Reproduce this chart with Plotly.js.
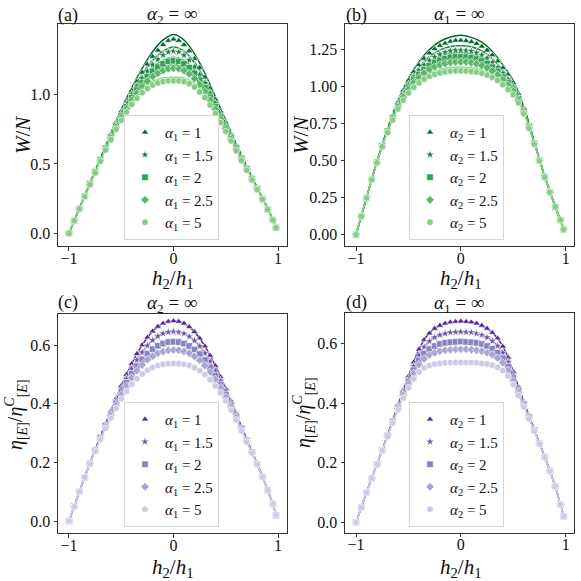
<!DOCTYPE html>
<html>
<head>
<meta charset="utf-8">
<script src="https://cdn.plot.ly/plotly-3.0.1.min.js"></script>
<style>
  html, body { margin: 0; padding: 0; background: #fff; }
  #chart { width: 581px; height: 581px; }
</style>
</head>
<body>
<div id="chart"></div>
<script>
var FONT = 'Liberation Serif, DejaVu Serif, serif';

// h2/h1 grid of the simulated points and of the fitted curves
var hSim = [-1, -0.95, -0.9, -0.85, -0.8, -0.75, -0.7, -0.65, -0.6, -0.55, -0.5, -0.45, -0.4, -0.35, -0.3, -0.25, -0.2, -0.15, -0.1, -0.05, 0,
            0.05, 0.1, 0.15, 0.2, 0.25, 0.3, 0.35, 0.4, 0.45, 0.5, 0.55, 0.6, 0.65, 0.7, 0.75, 0.8, 0.85, 0.9, 0.95, 0.98];
var hFit = [-1, -0.9, -0.8, -0.7, -0.6, -0.5, -0.4, -0.3, -0.2, -0.1, 0, 0.1, 0.2, 0.3, 0.4, 0.5, 0.6, 0.7, 0.8, 0.9, 0.98];

var alphas = ['1', '1.5', '2', '2.5', '5'];
var symbols = ['triangle-up', 'star', 'square', 'diamond', 'circle'];
var greens = ['#00692a', '#1a843f', '#37a055', '#5bb86a', '#86cc85'];
var purples = ['#552a90', '#6e58a7', '#8884bf', '#a8a5d0', '#cbcbe3'];

var xTickVals = [-1, 0, 1];
var xTickText = ['\u22121', '0', '1'];
var aTickVals = [0, 0.5, 1.0];
var aTickText = ['0.0', '0.5', '1.0'];
var bTickVals = [0, 0.25, 0.5, 0.75, 1.0, 1.25];
var bTickText = ['0.00', '0.25', '0.50', '0.75', '1.00', '1.25'];
var etaTickVals = [0, 0.2, 0.4, 0.6];
var etaTickText = ['0.0', '0.2', '0.4', '0.6'];

// (a) W/N, alpha2 = inf
var aSim1 = [0, 0.09, 0.18, 0.27, 0.36, 0.45, 0.54, 0.63, 0.715, 0.80, 0.88, 0.955, 1.03, 1.095, 1.16, 1.22, 1.275, 1.32, 1.36, 1.39, 1.40,
             1.39, 1.36, 1.315, 1.26, 1.195, 1.125, 1.045, 0.965, 0.88, 0.80, 0.715, 0.635, 0.555, 0.475, 0.40, 0.325, 0.25, 0.175, 0.095, 0.04];
var aSim15 = [0, 0.09, 0.18, 0.27, 0.357, 0.446, 0.534, 0.622, 0.704, 0.786, 0.862, 0.932, 1.002, 1.061, 1.119, 1.17, 1.217, 1.254, 1.285, 1.308, 1.315,
              1.308, 1.285, 1.249, 1.202, 1.145, 1.084, 1.011, 0.937, 0.857, 0.782, 0.701, 0.624, 0.547, 0.469, 0.396, 0.322, 0.25, 0.175, 0.095, 0.04];
var aSim2 = [0, 0.09, 0.177, 0.267, 0.355, 0.442, 0.53, 0.614, 0.694, 0.774, 0.846, 0.914, 0.978, 1.033, 1.085, 1.13, 1.169, 1.199, 1.223, 1.24, 1.245,
             1.24, 1.223, 1.194, 1.154, 1.105, 1.05, 0.983, 0.913, 0.839, 0.766, 0.689, 0.614, 0.539, 0.465, 0.392, 0.32, 0.247, 0.172, 0.095, 0.04];
var aSim25 = [0, 0.09, 0.176, 0.266, 0.353, 0.439, 0.526, 0.609, 0.687, 0.765, 0.834, 0.899, 0.96, 1.011, 1.058, 1.097, 1.131, 1.155, 1.174, 1.187, 1.19,
              1.187, 1.174, 1.15, 1.116, 1.072, 1.023, 0.961, 0.895, 0.824, 0.754, 0.68, 0.607, 0.534, 0.461, 0.389, 0.318, 0.246, 0.171, 0.095, 0.04];
var aSim5 = [0, 0.09, 0.175, 0.265, 0.35, 0.435, 0.52, 0.6, 0.675, 0.75, 0.815, 0.875, 0.93, 0.975, 1.015, 1.045, 1.07, 1.085, 1.095, 1.10, 1.10,
             1.10, 1.095, 1.08, 1.055, 1.02, 0.98, 0.925, 0.865, 0.80, 0.735, 0.665, 0.595, 0.525, 0.455, 0.385, 0.315, 0.245, 0.17, 0.095, 0.04];
var aFit1 = [0, 0.18, 0.36, 0.54, 0.72, 0.895, 1.05, 1.19, 1.31, 1.395, 1.435, 1.395, 1.295, 1.155, 0.985, 0.815, 0.645, 0.485, 0.33, 0.18, 0.045];
var aFit15 = [0, 0.18, 0.36, 0.54, 0.71, 0.875, 1.02, 1.147, 1.247, 1.315, 1.345, 1.315, 1.232, 1.11, 0.955, 0.795, 0.633, 0.478, 0.327, 0.18, 0.045];
var aFit2 = [0, 0.178, 0.357, 0.533, 0.7, 0.858, 0.996, 1.11, 1.195, 1.248, 1.27, 1.248, 1.18, 1.075, 0.93, 0.779, 0.623, 0.474, 0.325, 0.177, 0.045];
var aFit25 = [0, 0.177, 0.355, 0.529, 0.693, 0.846, 0.978, 1.083, 1.156, 1.199, 1.215, 1.199, 1.141, 1.048, 0.913, 0.767, 0.616, 0.47, 0.323, 0.176, 0.045];
var aFit5 = [0, 0.176, 0.352, 0.523, 0.681, 0.827, 0.948, 1.04, 1.095, 1.12, 1.125, 1.12, 1.08, 1.005, 0.883, 0.748, 0.604, 0.464, 0.32, 0.175, 0.045];

// (b) W/N, alpha1 = inf
var bSim1 = [0, 0.125, 0.248, 0.372, 0.491, 0.605, 0.709, 0.807, 0.895, 0.973, 1.04, 1.098, 1.145, 1.188, 1.224, 1.253, 1.275, 1.291, 1.303, 1.309, 1.31,
             1.308, 1.301, 1.288, 1.27, 1.244, 1.211, 1.171, 1.125, 1.08, 1.025, 0.95, 0.855, 0.742, 0.624, 0.505, 0.391, 0.287, 0.188, 0.1, 0.036];
var bSim15 = [0, 0.125, 0.248, 0.371, 0.489, 0.601, 0.703, 0.797, 0.88, 0.952, 1.013, 1.065, 1.107, 1.144, 1.175, 1.199, 1.217, 1.23, 1.24, 1.244, 1.245,
              1.243, 1.238, 1.227, 1.212, 1.191, 1.163, 1.129, 1.089, 1.048, 0.999, 0.931, 0.842, 0.734, 0.62, 0.503, 0.39, 0.287, 0.188, 0.1, 0.036];
var bSim2 = [0, 0.125, 0.248, 0.371, 0.488, 0.599, 0.698, 0.789, 0.869, 0.938, 0.995, 1.043, 1.08, 1.113, 1.14, 1.161, 1.176, 1.187, 1.196, 1.199, 1.2,
             1.198, 1.194, 1.185, 1.172, 1.154, 1.13, 1.101, 1.064, 1.026, 0.981, 0.917, 0.834, 0.729, 0.616, 0.501, 0.389, 0.286, 0.187, 0.1, 0.036];
var bSim25 = [0, 0.125, 0.248, 0.371, 0.487, 0.597, 0.695, 0.784, 0.861, 0.927, 0.981, 1.025, 1.059, 1.09, 1.114, 1.132, 1.145, 1.155, 1.162, 1.165, 1.165,
              1.164, 1.16, 1.152, 1.141, 1.126, 1.105, 1.078, 1.045, 1.009, 0.968, 0.907, 0.827, 0.725, 0.614, 0.5, 0.389, 0.286, 0.187, 0.1, 0.036];
var bSim5 = [0, 0.125, 0.248, 0.37, 0.485, 0.593, 0.689, 0.774, 0.847, 0.908, 0.956, 0.995, 1.024, 1.049, 1.068, 1.082, 1.091, 1.098, 1.103, 1.105, 1.105,
             1.104, 1.101, 1.096, 1.088, 1.077, 1.061, 1.04, 1.012, 0.98, 0.944, 0.889, 0.815, 0.718, 0.61, 0.498, 0.388, 0.286, 0.187, 0.1, 0.036];
var bFit1 = [0, 0.25, 0.495, 0.715, 0.905, 1.055, 1.165, 1.248, 1.303, 1.333, 1.345, 1.331, 1.298, 1.235, 1.145, 1.04, 0.865, 0.63, 0.395, 0.19, 0.036];
var bFit15 = [0, 0.25, 0.493, 0.709, 0.89, 1.028, 1.127, 1.199, 1.245, 1.27, 1.275, 1.268, 1.24, 1.187, 1.109, 1.014, 0.852, 0.626, 0.394, 0.19, 0.036];
var bFit2 = [0, 0.25, 0.491, 0.703, 0.877, 1.008, 1.097, 1.16, 1.199, 1.221, 1.225, 1.219, 1.195, 1.15, 1.081, 0.993, 0.842, 0.621, 0.392, 0.189, 0.036];
var bFit25 = [0, 0.25, 0.49, 0.7, 0.869, 0.994, 1.076, 1.134, 1.168, 1.187, 1.19, 1.185, 1.164, 1.125, 1.062, 0.981, 0.835, 0.619, 0.392, 0.189, 0.036];
var bFit5 = [0, 0.25, 0.488, 0.694, 0.855, 0.969, 1.041, 1.088, 1.114, 1.128, 1.13, 1.126, 1.111, 1.081, 1.029, 0.957, 0.823, 0.615, 0.391, 0.189, 0.036];

// (c) efficiency ratio, alpha2 = inf
var cSim1 = [0, 0.05, 0.1, 0.15, 0.198, 0.244, 0.289, 0.333, 0.376, 0.418, 0.462, 0.5, 0.537, 0.571, 0.601, 0.627, 0.648, 0.664, 0.675, 0.681, 0.683,
             0.681, 0.675, 0.663, 0.646, 0.624, 0.597, 0.565, 0.53, 0.492, 0.452, 0.41, 0.367, 0.323, 0.28, 0.238, 0.196, 0.152, 0.106, 0.058, 0.02];
var cSim15 = [0, 0.05, 0.1, 0.15, 0.197, 0.242, 0.286, 0.329, 0.37, 0.41, 0.451, 0.486, 0.52, 0.55, 0.576, 0.599, 0.617, 0.631, 0.64, 0.645, 0.647,
              0.645, 0.64, 0.63, 0.616, 0.597, 0.573, 0.545, 0.513, 0.479, 0.442, 0.402, 0.361, 0.319, 0.278, 0.237, 0.195, 0.152, 0.106, 0.058, 0.02];
var cSim2 = [0, 0.05, 0.1, 0.149, 0.196, 0.241, 0.284, 0.325, 0.364, 0.402, 0.44, 0.472, 0.503, 0.529, 0.552, 0.572, 0.587, 0.599, 0.606, 0.611, 0.612,
             0.611, 0.606, 0.598, 0.586, 0.57, 0.55, 0.525, 0.497, 0.466, 0.431, 0.395, 0.356, 0.316, 0.275, 0.235, 0.194, 0.151, 0.106, 0.058, 0.02];
var cSim25 = [0, 0.05, 0.1, 0.149, 0.196, 0.24, 0.281, 0.321, 0.36, 0.395, 0.431, 0.461, 0.489, 0.513, 0.533, 0.551, 0.563, 0.573, 0.579, 0.583, 0.584,
              0.583, 0.579, 0.573, 0.562, 0.549, 0.531, 0.509, 0.484, 0.455, 0.423, 0.389, 0.352, 0.313, 0.273, 0.234, 0.194, 0.151, 0.106, 0.058, 0.02];
var cSim5 = [0, 0.05, 0.1, 0.149, 0.195, 0.237, 0.278, 0.316, 0.352, 0.385, 0.417, 0.443, 0.467, 0.486, 0.502, 0.515, 0.524, 0.531, 0.535, 0.537, 0.538,
             0.537, 0.535, 0.531, 0.524, 0.514, 0.5, 0.483, 0.462, 0.438, 0.41, 0.379, 0.345, 0.308, 0.27, 0.232, 0.193, 0.15, 0.106, 0.058, 0.02];

// (d) efficiency ratio, alpha1 = inf
var dSim1 = [0, 0.05, 0.1, 0.148, 0.195, 0.243, 0.292, 0.342, 0.393, 0.443, 0.49, 0.537, 0.58, 0.612, 0.634, 0.65, 0.66, 0.667, 0.671, 0.673, 0.674,
             0.673, 0.671, 0.667, 0.66, 0.65, 0.636, 0.617, 0.59, 0.553, 0.505, 0.455, 0.405, 0.358, 0.312, 0.265, 0.22, 0.172, 0.12, 0.06, 0.02];
var dSim15 = [0, 0.05, 0.1, 0.148, 0.195, 0.242, 0.291, 0.34, 0.389, 0.437, 0.48, 0.523, 0.561, 0.588, 0.607, 0.62, 0.628, 0.633, 0.637, 0.638, 0.639,
              0.638, 0.637, 0.633, 0.628, 0.62, 0.608, 0.592, 0.569, 0.537, 0.494, 0.448, 0.4, 0.355, 0.31, 0.264, 0.22, 0.172, 0.12, 0.06, 0.02];
var dSim2 = [0, 0.05, 0.1, 0.148, 0.195, 0.242, 0.29, 0.338, 0.385, 0.43, 0.471, 0.51, 0.543, 0.566, 0.581, 0.591, 0.598, 0.602, 0.604, 0.605, 0.606,
             0.605, 0.604, 0.602, 0.598, 0.591, 0.582, 0.569, 0.55, 0.522, 0.484, 0.441, 0.396, 0.353, 0.309, 0.263, 0.219, 0.172, 0.12, 0.06, 0.02];
var dSim25 = [0, 0.05, 0.1, 0.148, 0.194, 0.241, 0.289, 0.336, 0.382, 0.426, 0.464, 0.499, 0.529, 0.548, 0.561, 0.569, 0.574, 0.577, 0.579, 0.58, 0.58,
              0.58, 0.579, 0.577, 0.574, 0.569, 0.562, 0.551, 0.535, 0.51, 0.475, 0.436, 0.393, 0.351, 0.308, 0.263, 0.219, 0.172, 0.12, 0.06, 0.02];
var dSim5 = [0, 0.05, 0.1, 0.148, 0.194, 0.241, 0.287, 0.333, 0.377, 0.417, 0.451, 0.481, 0.504, 0.518, 0.526, 0.531, 0.533, 0.535, 0.536, 0.536, 0.536,
             0.536, 0.536, 0.535, 0.533, 0.531, 0.527, 0.52, 0.509, 0.491, 0.462, 0.426, 0.387, 0.347, 0.306, 0.262, 0.218, 0.171, 0.12, 0.06, 0.02];

var traces = [];

function addPanel(xa, ya, legendId, sub, simSets, fitX, fitSets, colors) {
    for (var i = 0; i < simSets.length; i++) {
        traces.push({
            type: 'scatter', mode: 'lines', x: fitX, y: fitSets[i],
            xaxis: xa, yaxis: ya, showlegend: false, hoverinfo: 'skip',
            line: { color: colors[i], width: 1.5, shape: 'spline' }
        });
        traces.push({
            type: 'scatter', mode: 'markers', x: hSim, y: simSets[i],
            xaxis: xa, yaxis: ya, legend: legendId,
            name: '<i>\u03b1</i><sub>' + sub + '</sub> = ' + alphas[i],
            marker: { symbol: symbols[i], size: 6.5, color: colors[i], line: { color: '#ffffff', width: 0.6 } }
        });
    }
}

addPanel('x', 'y', 'legend', '1', [aSim1, aSim15, aSim2, aSim25, aSim5], hFit, [aFit1, aFit15, aFit2, aFit25, aFit5], greens);
addPanel('x2', 'y2', 'legend2', '2', [bSim1, bSim15, bSim2, bSim25, bSim5], hFit, [bFit1, bFit15, bFit2, bFit25, bFit5], greens);
addPanel('x3', 'y3', 'legend3', '1', [cSim1, cSim15, cSim2, cSim25, cSim5], hSim, [cSim1, cSim15, cSim2, cSim25, cSim5], purples);
addPanel('x4', 'y4', 'legend4', '2', [dSim1, dSim15, dSim2, dSim25, dSim5], hSim, [dSim1, dSim15, dSim2, dSim25, dSim5], purples);

function axis(extra) {
    var base = {
        showline: true, mirror: true, linecolor: '#333', linewidth: 1,
        ticks: 'outside', ticklen: 3.5, tickwidth: 1, tickcolor: '#333',
        showgrid: false, zeroline: false, fixedrange: true,
        tickfont: { family: FONT, size: 16, color: '#111' }
    };
    for (var k in extra) base[k] = extra[k];
    return base;
}

function xAxis(dom, rng, anchor) {
    return axis({ domain: dom, range: rng, anchor: anchor, tickvals: xTickVals, ticktext: xTickText, ticklabelstandoff: -6 });
}

function legendAt(px, py) {
    return {
        x: px / 581, y: 1 - py / 581, xanchor: 'left', yanchor: 'top',
        bgcolor: 'rgba(255,255,255,0.8)', bordercolor: '#d6d6d6', borderwidth: 1,
        font: { family: FONT, size: 15, color: '#111' },
        itemwidth: 30, tracegroupgap: 0
    };
}

function note(text, px, py, size, extra) {
    var a = {
        text: text, xref: 'paper', yref: 'paper', x: px / 581, y: 1 - py / 581,
        xanchor: 'center', yanchor: 'middle',
        showarrow: false, font: { family: FONT, size: size, color: '#111' }
    };
    for (var k in extra) a[k] = extra[k];
    return a;
}

var hLabel = '<i>h</i><sub>2</sub>/<i>h</i><sub>1</sub>';
var wLabel = '<i>W</i>/<i>N</i>';
var etaLabel = '<i>\u03b7</i><sub>[<i>E</i>]</sub>/<i>\u03b7</i><sup><i>C</i></sup><sub>[<i>E</i>]</sub>';
var titleA = '<i>\u03b1</i><sub>2</sub> = \u221e';
var titleB = '<i>\u03b1</i><sub>1</sub> = \u221e';

var layout = {
    width: 581, height: 581,
    margin: { l: 0, r: 0, t: 0, b: 0 },
    paper_bgcolor: '#fff', plot_bgcolor: '#fff',
    showlegend: true,
    font: { family: FONT, color: '#111' },
    xaxis: xAxis([58 / 581, 287 / 581], [-1.105, 1.085], 'y'),
    yaxis: axis({ domain: [1 - 246 / 581, 1 - 24.3 / 581], range: [-0.092, 1.508], anchor: 'x', tickvals: aTickVals, ticktext: aTickText }),
    xaxis2: xAxis([345 / 581, 574 / 581], [-1.105, 1.079], 'y2'),
    yaxis2: axis({ domain: [1 - 246 / 581, 1 - 24.3 / 581], range: [-0.076, 1.419], anchor: 'x2', tickvals: bTickVals, ticktext: bTickText }),
    xaxis3: xAxis([58 / 581, 287 / 581], [-1.105, 1.085], 'y3'),
    yaxis3: axis({ domain: [1 - 533.3 / 581, 1 - 314.3 / 581], range: [-0.042, 0.706], anchor: 'x3', tickvals: etaTickVals, ticktext: etaTickText }),
    xaxis4: xAxis([345 / 581, 574 / 581], [-1.105, 1.079], 'y4'),
    yaxis4: axis({ domain: [1 - 532.7 / 581, 1 - 312.7 / 581], range: [-0.035, 0.703], anchor: 'x4', tickvals: etaTickVals, ticktext: etaTickText }),
    legend: legendAt(124, 115),
    legend2: legendAt(409, 115),
    legend3: legendAt(124, 402),
    legend4: legendAt(409, 402),
    annotations: [
        note('(a)', 56, 15, 18, { xanchor: 'left' }),
        note('(b)', 344, 15, 18, { xanchor: 'left' }),
        note('(c)', 56, 303, 18, { xanchor: 'left' }),
        note('(d)', 344, 302, 18, { xanchor: 'left' }),
        note(titleA, 172, 15, 19),
        note(titleB, 459, 15, 19),
        note(titleA, 172, 304, 19),
        note(titleB, 459, 304, 19),
        note(hLabel, 173, 279, 21),
        note(hLabel, 461, 279, 21),
        note(hLabel, 173, 568, 21),
        note(hLabel, 461, 568, 21),
        note(wLabel, 23, 135, 21, { textangle: -90 }),
        note(wLabel, 301, 135, 21, { textangle: -90 }),
        note(etaLabel, 16, 415, 20, { textangle: -90 }),
        note(etaLabel, 304, 413, 20, { textangle: -90 })
    ]
};

Plotly.newPlot('chart', traces, layout, { staticPlot: true, displayModeBar: false });
</script>
</body>
</html>
